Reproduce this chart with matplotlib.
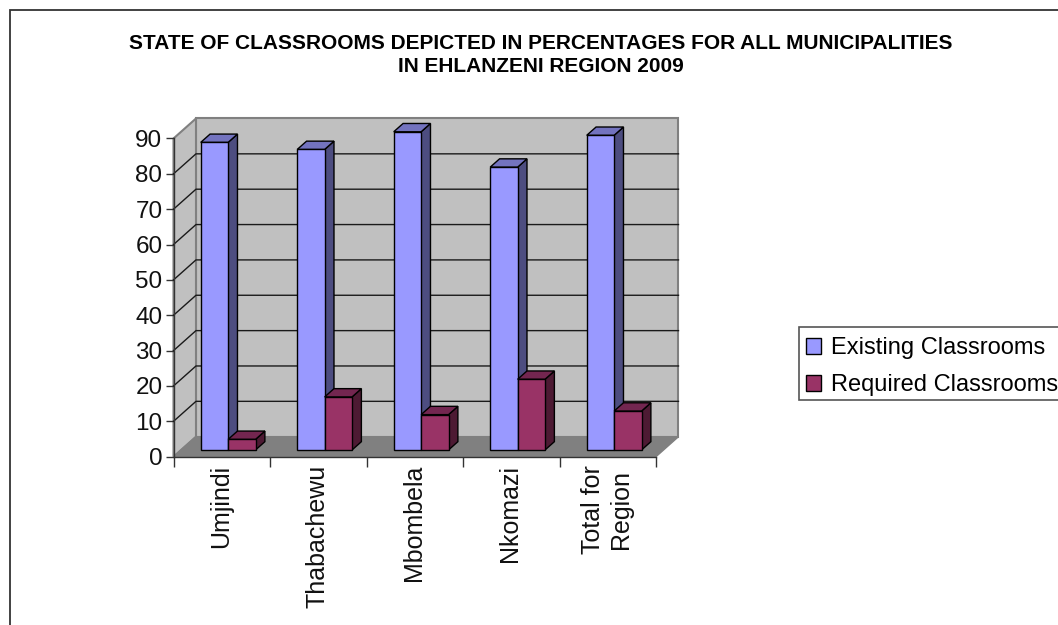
import matplotlib
matplotlib.use('Agg')
import matplotlib.pyplot as plt
from matplotlib.patches import Patch, Rectangle

plt.rcParams['font.family'] = ['Liberation Sans', 'DejaVu Sans']

# values
municipalities = ['Umjindi', 'Thabachewu', 'Mbombela', 'Nkomazi', 'Total for\nRegion']
existing = [87, 85, 90, 80, 89]
required = [3, 15, 10, 20, 11]
y_ticks = [0, 10, 20, 30, 40, 50, 60, 70, 80, 90]
title = ('STATE OF CLASSROOMS DEPICTED IN PERCENTAGES FOR ALL MUNICIPALITIES\n'
         'IN EHLANZENI REGION 2009')

# fake 3d offsets, in data units
wall_dx = 0.233
wall_dy = 5.66
bar_w = 0.284
bar_start = 0.282
bar_base = 1.9
bar_dx = 0.097
bar_dy = 2.35

W = 1058.0
H = 625.0
fig = plt.figure(figsize=(W / 100, H / 100), dpi=100)
fig.patch.set_facecolor('white')

# frame round the chart, runs off the picture on the right and bottom
fig.add_artist(Rectangle((9.5 / W, -0.1), 1.2, 1.1 - 10.5 / H, transform=fig.transFigure,
                         fill=False, ec='#333333', lw=1.3))

ax = fig.add_axes([173.5 / W, (H - 456.7) / H, 482.5 / W, 318.2 / H])
ax.set_xlim(0, len(municipalities))
ax.set_ylim(0, 90)
ax.patch.set_visible(False)


def poly(xs, ys, color, zorder, ec='black', lw=1.0):
    ax.fill(xs, ys, facecolor=color, edgecolor=ec, lw=lw, clip_on=False, zorder=zorder,
            joinstyle='miter')


n = len(municipalities)
# walls and floor
poly([wall_dx, n + wall_dx, n + wall_dx, wall_dx], [wall_dy, wall_dy, 90 + wall_dy, 90 + wall_dy],
     '#c0c0c0', 1, ec='#808080', lw=1.5)
poly([0, wall_dx, wall_dx, 0], [0, wall_dy, 90 + wall_dy, 90], '#c0c0c0', 1, ec='#808080', lw=1.5)
poly([0, n, n + wall_dx, wall_dx], [0, 0, wall_dy, wall_dy], '#808080', 1, ec='#808080', lw=1.0)

# grid on both walls
for v in y_ticks[1:-1]:
    ax.plot([0, wall_dx, n + wall_dx], [v, v + wall_dy, v + wall_dy], color='#1a1a1a', lw=1.0,
            clip_on=False, zorder=2)


def box(x, value, front, side, top, zorder):
    y0 = bar_base
    y1 = bar_base + value
    poly([x + bar_w, x + bar_w + bar_dx, x + bar_w + bar_dx, x + bar_w],
         [y0, y0 + bar_dy, y1 + bar_dy, y1], side, zorder)
    poly([x, x + bar_dx, x + bar_w + bar_dx, x + bar_w],
         [y1, y1 + bar_dy, y1 + bar_dy, y1], top, zorder)
    ax.bar(x, value, bar_w, bottom=y0, align='edge', color=front, edgecolor='black', lw=1.0,
           clip_on=False, zorder=zorder)


for i in range(n):
    box(i + bar_start, existing[i], '#9999ff', '#4d4d80', '#7373bf', 3 + i * 2)
    box(i + bar_start + bar_w, required[i], '#993366', '#4d1a33', '#732650', 4 + i * 2)

# axes
for s in ['top', 'right']:
    ax.spines[s].set_visible(False)
for s in ['left', 'bottom']:
    ax.spines[s].set_color('#333333')
    ax.spines[s].set_linewidth(1.0)
    ax.spines[s].set_zorder(2.5)
ax.set_yticks(y_ticks)
ax.set_xticks(range(n + 1))
ax.set_xticklabels([])
ax.set_xticks([i + 0.49 for i in range(n)], minor=True)
ax.set_xticklabels(municipalities, minor=True, rotation=90, fontsize=18, va='top', ha='center',
                   linespacing=1.2, color='#111111')
ax.tick_params(axis='x', which='major', length=7, width=1.0, color='#333333')
ax.tick_params(axis='x', which='minor', length=0, pad=6)
ax.tick_params(axis='y', length=6, width=1.0, color='#333333', labelsize=17.5, pad=2,
               labelcolor='#111111')

fig.text(541 / W, (H - 55) / H, title, ha='center', va='center', fontsize=15, fontweight='bold',
         linespacing=1.25, color='black')

# legend box runs off the right edge, text sits low in it
fig.add_artist(Rectangle((799 / W, (H - 400) / H), 0.3, 73.5 / H, transform=fig.transFigure,
                         fc='white', ec='#555555', lw=1.2))
handles = [Patch(facecolor='#9999ff', edgecolor='black', lw=1.0, label='Existing Classrooms'),
           Patch(facecolor='#993366', edgecolor='black', lw=1.0, label='Required Classrooms')]
fig.legend(handles=handles, loc='lower left', bbox_to_anchor=(799 / W, (H - 403) / H),
           fontsize=17, frameon=False, borderaxespad=0, borderpad=0.3,
           handlelength=0.65, handleheight=0.65, handletextpad=0.42, labelspacing=0.62)

fig.savefig('out.png', dpi=100)
